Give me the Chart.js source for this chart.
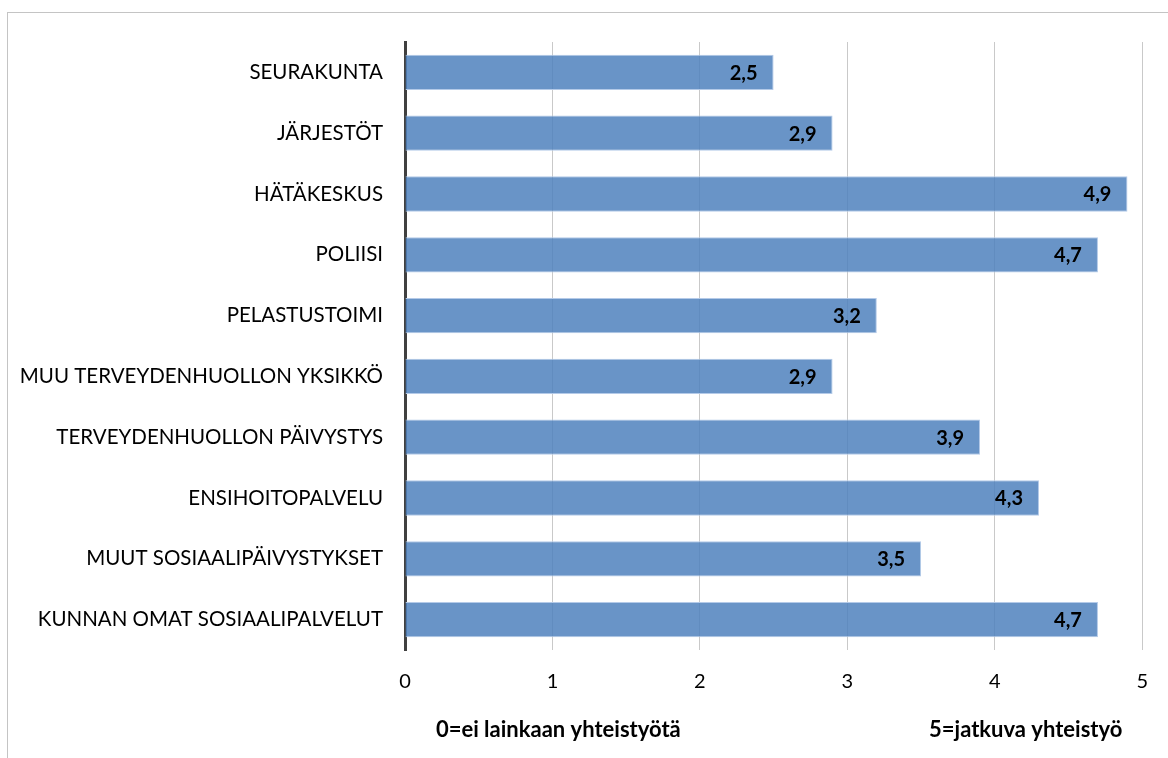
<!DOCTYPE html>
<html>
<head>
<meta charset="utf-8">
<script src="https://cdn.jsdelivr.net/npm/chart.js@4"></script>
<style>
html,body{margin:0;padding:0;background:#fff;overflow:hidden;}
#wrap{position:relative;width:1168px;height:758px;}
#frame{position:absolute;left:7px;top:12px;width:1300px;height:900px;border:1px solid #c4c4c4;box-sizing:border-box;}
canvas{position:absolute;left:0;top:0;}
</style>
</head>
<body>
<div id="wrap">
<div id="frame"></div>
<canvas id="c" width="1168" height="758"></canvas>
</div>
<script>
const categories = [
  "SEURAKUNTA",
  "JÄRJESTÖT",
  "HÄTÄKESKUS",
  "POLIISI",
  "PELASTUSTOIMI",
  "MUU TERVEYDENHUOLLON YKSIKKÖ",
  "TERVEYDENHUOLLON PÄIVYSTYS",
  "ENSIHOITOPALVELU",
  "MUUT SOSIAALIPÄIVYSTYKSET",
  "KUNNAN OMAT SOSIAALIPALVELUT"
];
const values = [2.5, 2.9, 4.9, 4.7, 3.2, 2.9, 3.9, 4.3, 3.5, 4.7];
const tickValues = [0, 1, 2, 3, 4, 5];
const leftNote = "0=ei lainkaan yhteistyötä";
const rightNote = "5=jatkuva yhteistyö";

const FONT = "Lato, 'Open Sans', sans-serif";

const labelPlugin = {
  id: 'barLabels',
  afterDatasetsDraw(chart) {
    const ctx = chart.ctx;
    const meta = chart.getDatasetMeta(0);
    ctx.save();
    ctx.font = "bold 20px " + FONT;
    ctx.fillStyle = "#000";
    ctx.textAlign = "right";
    ctx.textBaseline = "middle";
    meta.data.forEach((bar, i) => {
      const txt = values[i].toFixed(1).replace('.', ',');
      ctx.fillText(txt, bar.x - 16, bar.y + 1);
    });
    ctx.restore();
  },
  afterDraw(chart) {
    const ctx = chart.ctx;
    const xs = chart.scales.x;
    ctx.save();
    ctx.font = "bold 22px " + FONT;
    ctx.fillStyle = "#000";
    ctx.textAlign = "center";
    ctx.textBaseline = "middle";
    ctx.fillText(leftNote, xs.getPixelForValue(1.04), 730);
    ctx.fillText(rightNote, xs.getPixelForValue(4.21), 730);
    ctx.restore();
  }
};

new Chart(document.getElementById('c'), {
  type: 'bar',
  data: {
    labels: categories,
    datasets: [{
      data: values,
      backgroundColor: 'rgba(79,129,189,0.85)',
      borderColor: 'rgba(180,202,232,1)',
      borderWidth: 1,
      borderSkipped: 'start',
      categoryPercentage: 1,
      barPercentage: 0.58
    }]
  },
  options: {
    indexAxis: 'y',
    responsive: false,
    animation: false,
    layout: { padding: { top: 42, right: 16, left: 0, bottom: 0 } },
    plugins: { legend: { display: false }, tooltip: { enabled: false } },
    scales: {
      x: {
        min: 0, max: 5,
        afterBuildTicks(scale) { scale.ticks = tickValues.map(v => ({ value: v })); },
        afterFit(scale) { scale.height = 108; },
        grid: { color: '#c9c9c9', lineWidth: 1, drawTicks: false },
        border: { display: false },
        ticks: { color: '#000', font: { family: FONT, size: 20 }, padding: 20 }
      },
      y: {
        afterFit(scale) { scale.width = 405; },
        grid: { display: false, drawTicks: false },
        border: { display: true, color: '#404040', width: 3 },
        ticks: { color: '#000', font: { family: FONT, size: 20.5 }, padding: 22 }
      }
    }
  },
  plugins: [labelPlugin]
});
</script>
</body>
</html>
